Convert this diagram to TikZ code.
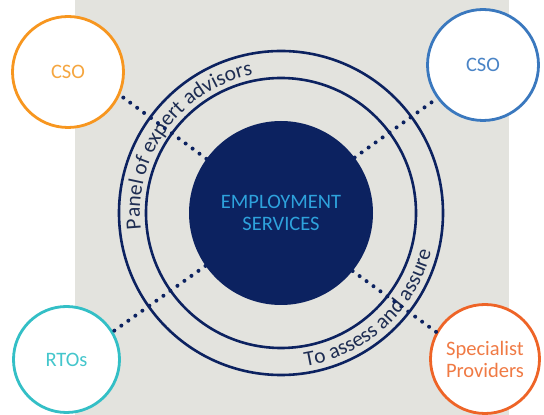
\documentclass[tikz,border=0pt]{standalone}
\usepackage{fontspec}
\setmainfont{Carlito}
\usetikzlibrary{decorations.text}
\definecolor{bggrey}{HTML}{E3E3DE}
\definecolor{navy}{HTML}{0C2260}
\definecolor{navytext}{HTML}{1E2D52}
\definecolor{esblue}{HTML}{2EA2DC}
\definecolor{csoorange}{HTML}{F7961F}
\definecolor{csoorangetxt}{HTML}{F5A640}
\definecolor{csoblue}{HTML}{3A78BE}
\definecolor{csobluetxt}{HTML}{4A84C6}
\definecolor{rtoteal}{HTML}{33BFC6}
\definecolor{rtotealtxt}{HTML}{44C6CC}
\definecolor{specred}{HTML}{EE6427}
\definecolor{specredtxt}{HTML}{F07A44}
\tikzset{
  party/.style={circle, draw=#1, line width=2.8pt, fill=white, inner sep=0pt,
    font=\fontsize{20.5}{22}\selectfont, align=center},
  ring/.style={draw=navy, line width=2.6pt},
  dotline/.style={draw=navy, line width=4pt, line cap=round, dash pattern=on 0pt off 8.6pt},
}
\begin{document}
\begin{tikzpicture}[x=1pt,y=1pt]
\useasboundingbox (0,0) rectangle (544,415);
\fill[bggrey] (75,0) rectangle (509,415);
\coordinate (c) at (281,202);
\draw[ring] (c) circle[radius=162];
\draw[ring] (c) circle[radius=135];
\node[circle, fill=navy, minimum size=184pt, inner sep=0pt, text=esblue,
  font=\fontsize{20.5}{22}\selectfont, align=center] (es) at (c) {EMPLOYMENT\\SERVICES};
\path[decorate, decoration={text along path, text align=center,
  text={|\fontsize{21.5}{20}\selectfont\color{navytext}|Panel of expert advisors}}]
  (c) ++(194:141) arc[start angle=194, end angle=94, radius=141];
\path[decorate, decoration={text along path, text align=center,
  text={|\fontsize{21.5}{20}\selectfont\color{navytext}|To assess and assure}}]
  (c) ++(-87:155) arc[start angle=-87, end angle=-8, radius=155];
\node[party=csoorange, minimum size=111pt, text=csoorangetxt] (cso1) at (68,343) {CSO};
\node[party=csoblue, minimum size=111pt, text=csobluetxt] (cso2) at (483,350) {CSO};
\node[party=rtoteal, minimum size=106pt, text=rtotealtxt] (rto) at (66.5,55.5) {RTOs};
\node[party=specred, minimum size=109pt, text=specredtxt] (spec) at (485,56) {Specialist\\Providers};
\draw[dotline] (es.144) -- (cso1.-24);
\draw[dotline] (es.37) -- (cso2.216);
\draw[dotline] (es.215) -- (rto.31);
\draw[dotline] (es.-39) -- (spec.151);
\end{tikzpicture}
\end{document}
